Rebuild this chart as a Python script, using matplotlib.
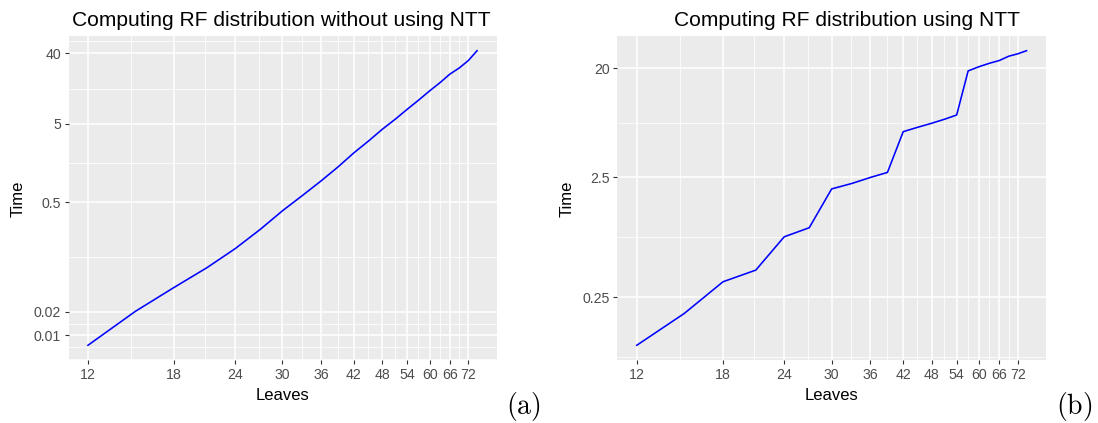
import numpy as np
import matplotlib
matplotlib.use("Agg")
import matplotlib.pyplot as plt
from matplotlib.ticker import FixedLocator, FixedFormatter, NullFormatter

plt.rcParams["font.family"] = ["Liberation Sans", "DejaVu Sans"]
plt.rcParams["mathtext.fontset"] = "cm"

# Number of leaves in the tree
leaves = [12, 15, 18, 21, 24, 27, 30, 33, 36, 39, 42, 45, 48, 51, 54, 57, 60, 63, 66, 69, 72, 75]

# Running time without NTT
time_plain = [0.0075, 0.0203, 0.041, 0.073, 0.128, 0.225, 0.39, 0.615, 0.94, 1.42, 2.14,
              3.03, 4.27, 5.73, 7.7, 10.1, 13.2, 16.8, 21.6, 25.9, 32.2, 42.9]

# Running time with NTT
time_ntt = [0.0995, 0.183, 0.336, 0.42, 0.795, 0.946, 1.99, 2.21, 2.48, 2.73, 5.96,
            6.49, 7.0, 7.56, 8.2, 19.1, 20.7, 22.1, 23.3, 25.3, 26.5, 28.1]

x_breaks = [12, 18, 24, 30, 36, 42, 48, 54, 60, 66, 72]
x_labels = ["12", "18", "24", "30", "36", "42", "48", "54", "60", "66", "72"]

y_breaks_plain = [0.01, 0.02, 0.5, 5, 40]
y_labels_plain = ["0.01", "0.02", "0.5", "5", "40"]

y_breaks_ntt = [0.25, 2.5, 20]
y_labels_ntt = ["0.25", "2.5", "20"]

titles = ["Computing RF distribution without using NTT", "Computing RF distribution using NTT"]
tags = ["(a)", "(b)"]

W, H = 1098, 423
fig = plt.figure(figsize=(W / 100, H / 100), dpi=100)

PANEL_BG = "#EBEBEB"
TICK_TXT = "#4D4D4D"
TICK_COL = "#333333"


def expanded_limits(values, mult=0.05):
    lv = np.log10(np.asarray(values, dtype=float))
    lo, hi = lv.min(), lv.max()
    pad = (hi - lo) * mult
    return lo - pad, hi + pad


def minor_breaks(major, limits, n=2):
    """Midpoints between major breaks in log10 space, extended one step past each end."""
    b = list(np.log10(major))
    bd = b[1] - b[0]
    if limits[0] < b[0]:
        b = [b[0] - bd] + b
    if limits[1] > b[-1]:
        b = b + [b[-1] + bd]
    out = []
    for a, c in zip(b[:-1], b[1:]):
        out.extend(np.linspace(a, c, n + 1)[:-1])
    out.append(b[-1])
    majors = np.log10(major)
    res = [v for v in out
           if limits[0] <= v <= limits[1] and not np.any(np.isclose(v, majors))]
    return [10 ** v for v in res]


def px_axes(x0, x1, y0, y1):
    return fig.add_axes([x0 / W, 1 - y1 / H, (x1 - x0) / W, (y1 - y0) / H])


def draw_panel(ax, x, y, ybreaks, ylabels):
    ax.set_facecolor(PANEL_BG)
    ax.set_xscale("log")
    ax.set_yscale("log")
    xl = expanded_limits(x)
    yl = expanded_limits(y)
    ax.set_xlim(10 ** xl[0], 10 ** xl[1])
    ax.set_ylim(10 ** yl[0], 10 ** yl[1])

    ax.xaxis.set_major_locator(FixedLocator(x_breaks))
    ax.xaxis.set_major_formatter(FixedFormatter(x_labels))
    ax.xaxis.set_minor_locator(FixedLocator(minor_breaks(x_breaks, xl)))
    ax.xaxis.set_minor_formatter(NullFormatter())

    ax.yaxis.set_major_locator(FixedLocator(ybreaks))
    ax.yaxis.set_major_formatter(FixedFormatter(ylabels))
    ax.yaxis.set_minor_locator(FixedLocator(minor_breaks(ybreaks, yl)))
    ax.yaxis.set_minor_formatter(NullFormatter())

    ax.grid(which="minor", color="white", linewidth=0.55)
    ax.grid(which="major", color="white", linewidth=1.1)
    ax.set_axisbelow(True)
    for s in ax.spines.values():
        s.set_visible(False)
    ax.tick_params(which="major", length=3.2, width=0.8, color=TICK_COL,
                   labelcolor=TICK_TXT, labelsize=10.2, pad=2.3)
    ax.tick_params(which="minor", length=0)

    ax.plot(x, y, color="blue", linewidth=1.15, solid_joinstyle="round")


ax1 = px_axes(68.5, 496.5, 36, 360)
draw_panel(ax1, leaves, time_plain, y_breaks_plain, y_labels_plain)

ax2 = px_axes(617.3, 1046, 36, 360)
draw_panel(ax2, leaves, time_ntt, y_breaks_ntt, y_labels_ntt)

# Titles, axis titles and panel tags
fig.text(281 / W, 1 - 26 / H, titles[0], ha="center", va="baseline", fontsize=15.1)
fig.text(847 / W, 1 - 26 / H, titles[1], ha="center", va="baseline", fontsize=15.1)

for cx in (282.5, 831.7):
    fig.text(cx / W, 1 - 400 / H, "Leaves", ha="center", va="baseline", fontsize=12)
for cx in (18.5, 567):
    fig.text(cx / W, 1 - 199 / H, "Time", ha="center", va="center", rotation=90, fontsize=12)

fig.text(523 / W, 1 - 414 / H, r"$\mathrm{" + tags[0] + "}$", ha="center", va="baseline", fontsize=20)
fig.text(1074 / W, 1 - 414 / H, r"$\mathrm{" + tags[1] + "}$", ha="center", va="baseline", fontsize=20)

fig.savefig("out.png", dpi=100)
